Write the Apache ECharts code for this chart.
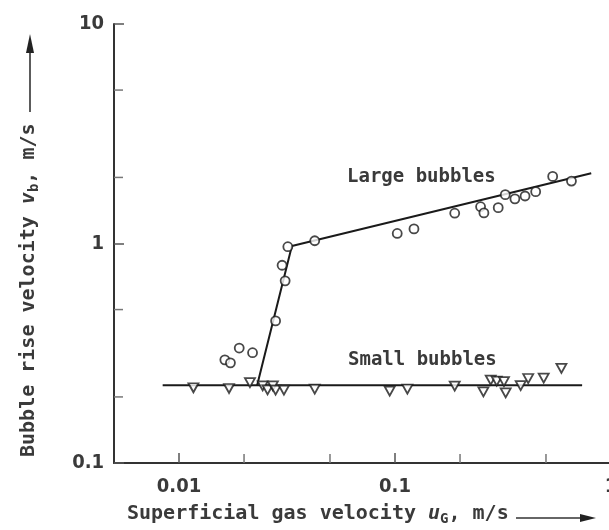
<!DOCTYPE html>
<html><head><meta charset="utf-8">
<script src="https://cdn.jsdelivr.net/npm/echarts@6/dist/echarts.min.js"></script>
<style>html,body{margin:0;padding:0;background:#fff}#c{width:609px;height:530px}</style>
</head><body><div id="c"></div>
<script>
// Large bubbles: [superficial gas velocity uG (m/s), bubble rise velocity vb (m/s)]
const largeBubbles = [
  [0.0163,0.295],[0.0173,0.286],[0.0190,0.334],[0.0219,0.318],[0.0280,0.444],
  [0.0310,0.676],[0.0300,0.796],[0.0319,0.967],[0.0425,1.029],[0.1024,1.111],
  [0.1224,1.165],[0.189,1.374],[0.249,1.471],[0.258,1.378],[0.3005,1.456],
  [0.324,1.669],[0.359,1.597],[0.400,1.646],[0.448,1.722],[0.537,2.022],[0.656,1.925]
];
// Small bubbles
const smallBubbles = [
  [0.01166,0.2202],[0.01704,0.2185],[0.0213,0.2326],[0.0244,0.2247],[0.0257,0.2154],
  [0.0272,0.2247],[0.0280,0.2148],[0.0306,0.2148],[0.0425,0.2170],[0.0945,0.2125],
  [0.1141,0.2173],[0.189,0.2240],[0.2566,0.2110],[0.2774,0.2385],[0.2957,0.2360],
  [0.3195,0.2350],[0.3254,0.2087],[0.3818,0.2252],[0.4137,0.2426],[0.488,0.2436],[0.5894,0.2696]
];
// Fitted lines
const largeFit = [[0.0230,0.226],[0.0333,0.974],[0.81,2.09]];
const smallFit = [[0.0084,0.226],[0.735,0.226]];
// Axis ranges and ticks
const xRange = [0.005, 1];
const yRange = [0.1, 10];
const xMajorLabels = {0.01:'0.01', 0.1:'0.1', 1:'1'};
const yMajorLabels = {0.1:'0.1', 1:'1', 10:'10'};
const xMinorTicks = [0.02, 0.05, 0.2, 0.5];
const yMinorTicks = [0.2, 0.5, 2, 5];

const TXT = '#3a3a3a';
const MONO = '"DejaVu Sans Mono", monospace';
const COND = '"DejaVu Sans Condensed", "DejaVu Sans", sans-serif';

function labelFor(map) {
  return function (v) {
    for (const k in map) { if (Math.abs(Math.log10(v) - Math.log10(+k)) < 1e-6) return map[k]; }
    return '';
  };
}

const chart = echarts.init(document.getElementById('c'), null, {renderer: 'canvas'});
chart.setOption({
  animation: false,
  backgroundColor: '#fff',
  grid: {left: 114, right: -2, top: 24, bottom: 67, containLabel: false, outerBoundsMode: 'none'},
  xAxis: {
    type: 'log', logBase: 10, min: xRange[0], max: xRange[1],
    axisLine: {show: true, lineStyle: {color: '#333', width: 2}},
    axisTick: {show: true, inside: true, length: 10, lineStyle: {color: '#555', width: 1.5}},
    axisLabel: {show: true, showMinLabel: false, hideOverlap: false, formatter: labelFor(xMajorLabels), margin: 14,
      fontFamily: COND, fontSize: 20, fontWeight: 'bold', color: TXT},
    splitLine: {show: false}, minorTick: {show: false}
  },
  yAxis: {
    type: 'log', logBase: 10, min: yRange[0], max: yRange[1],
    axisLine: {show: true, lineStyle: {color: '#333', width: 2}},
    axisTick: {show: true, inside: true, length: 10, lineStyle: {color: '#555', width: 1.5}},
    axisLabel: {show: true, formatter: labelFor(yMajorLabels), margin: 10,
      fontFamily: COND, fontSize: 20, fontWeight: 'bold', color: TXT},
    splitLine: {show: false}, minorTick: {show: false}
  },
  series: [
    {
      type: 'custom', name: 'xMinor', silent: true, z: 1,
      data: xMinorTicks.map(v => [v, yRange[0]]),
      renderItem: function (params, api) {
        const p = api.coord([api.value(0), api.value(1)]);
        return {type: 'line', shape: {x1: p[0], y1: p[1], x2: p[0], y2: p[1] - 9},
          style: {stroke: '#777', lineWidth: 1.5}};
      }
    },
    {
      type: 'custom', name: 'yMinor', silent: true, z: 1,
      data: yMinorTicks.map(v => [xRange[0], v]),
      renderItem: function (params, api) {
        const p = api.coord([api.value(0), api.value(1)]);
        return {type: 'line', shape: {x1: p[0], y1: p[1], x2: p[0] + 9, y2: p[1]},
          style: {stroke: '#777', lineWidth: 1.5}};
      }
    },
    {type: 'line', name: 'Large fit', data: largeFit, symbol: 'none', z: 2,
      lineStyle: {color: '#1a1a1a', width: 2}},
    {type: 'line', name: 'Small fit', data: smallFit, symbol: 'none', z: 2,
      lineStyle: {color: '#1a1a1a', width: 2}},
    {type: 'scatter', name: 'Large bubbles', data: largeBubbles, symbol: 'circle', symbolSize: 9, z: 3,
      itemStyle: {color: '#fff', borderColor: '#1a1a1a', borderWidth: 1.8}},
    {type: 'scatter', name: 'Small bubbles', data: smallBubbles, symbol: 'triangle', symbolRotate: 180,
      symbolSize: [10, 9], z: 3,
      itemStyle: {color: '#fff', borderColor: '#1a1a1a', borderWidth: 1.8}}
  ],
  graphic: [
    {type: 'text', x: 347, y: 177, style: {text: 'Large bubbles', font: 'bold 19px ' + MONO, fill: TXT,
      textAlign: 'left', textVerticalAlign: 'middle'}},
    {type: 'text', x: 348, y: 360, style: {text: 'Small bubbles', font: 'bold 19px ' + MONO, fill: TXT,
      textAlign: 'left', textVerticalAlign: 'middle'}},
    {type: 'text', x: 127, y: 514, style: {
      text: 'Superficial gas velocity {i|u}{s|G}, m/s', font: 'bold 20px ' + MONO, fill: TXT,
      textAlign: 'left', textVerticalAlign: 'middle',
      rich: {
        i: {fontFamily: MONO, fontSize: 20, fontWeight: 'bold', fontStyle: 'italic', fill: TXT, lineHeight: 24},
        s: {fontFamily: MONO, fontSize: 14, fontWeight: 'bold', fill: TXT, lineHeight: 24, verticalAlign: 'bottom', padding: [8, 0, 0, 0]}
      }}},
    {type: 'line', shape: {x1: 516, y1: 518, x2: 584, y2: 518}, style: {stroke: '#333', lineWidth: 1.6}},
    {type: 'polygon', shape: {points: [[580, 514], [596, 518], [580, 522]]}, style: {fill: '#222'}},
    {type: 'text', x: 29, y: 457, rotation: Math.PI / 2, style: {
      text: 'Bubble rise velocity {i|v}{s|b}, m/s', font: 'bold 20px ' + MONO, fill: TXT,
      textAlign: 'left', textVerticalAlign: 'middle',
      rich: {
        i: {fontFamily: MONO, fontSize: 20, fontWeight: 'bold', fontStyle: 'italic', fill: TXT, lineHeight: 24},
        s: {fontFamily: MONO, fontSize: 14, fontWeight: 'bold', fill: TXT, lineHeight: 24, verticalAlign: 'bottom', padding: [8, 0, 0, 0]}
      }}},
    {type: 'line', shape: {x1: 30, y1: 112, x2: 30, y2: 50}, style: {stroke: '#333', lineWidth: 1.6}},
    {type: 'polygon', shape: {points: [[26, 53], [30, 34], [34, 53]]}, style: {fill: '#222'}}
  ]
});
</script>
</body></html>
